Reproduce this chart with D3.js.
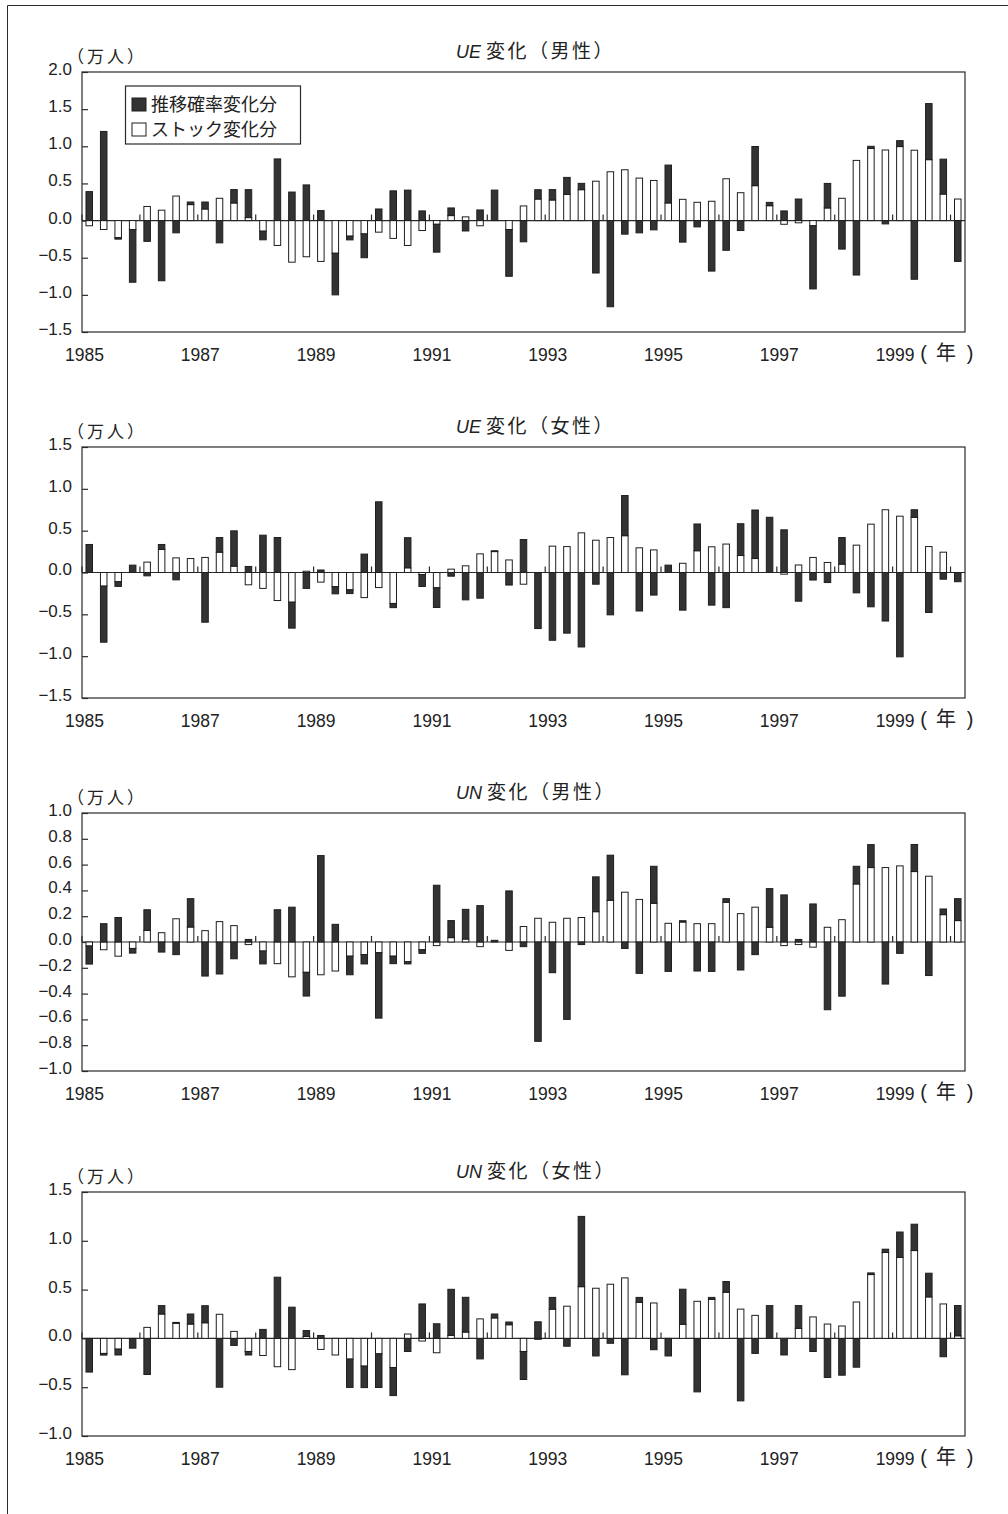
<!DOCTYPE html>
<html>
<head>
<meta charset="utf-8">
<script src="https://cdnjs.cloudflare.com/ajax/libs/d3/7.8.5/d3.min.js"></script>
<style>
  body { margin: 0; background: #fff; }
  svg { display: block; }
  text { font-family: "Liberation Sans", Arial, "Noto Sans CJK JP", sans-serif; fill: #222; }
  .cjk { font-family: "Noto Sans CJK JP", sans-serif; }
</style>
</head>
<body>
<svg id="chart" width="1008" height="1514"></svg>
<script>
// ---- categories: quarters 1985Q1 .. 2000Q1 ----
const years = [1985, 1986, 1987, 1988, 1989, 1990, 1991, 1992, 1993, 1994, 1995, 1996, 1997, 1998, 1999, 2000];
const quarters = years.flatMap(y => ["Q1", "Q2", "Q3", "Q4"].map(q => y + q)).slice(0, 61);
const xTickYears = [1985, 1987, 1989, 1991, 1993, 1995, 1997, 1999];

// ---- UE (male) ----
const ueMaleProb = [0.39, 1.20, -0.02, -0.71, -0.28, -0.81, -0.165, 0.035, 0.094, -0.30, 0.18, 0.376, -0.116, 0.83, 0.384, 0.48,
  0.134, -0.56, -0.05, -0.32, 0.156, 0.40, 0.41, 0.13, -0.375, 0.103, -0.14, 0.143, 0.41, -0.63, -0.286, 0.125,
  0.14, 0.228, 0.085, -0.706, -1.16, -0.183, -0.165, -0.125, 0.51, -0.29, -0.085, -0.68, -0.40, -0.134, 0.527, 0.045,
  0.13, 0.29, -0.85, 0.33, -0.384, -0.733, 0.03, -0.045, 0.08, -0.79, 0.755, 0.47, -0.55];
const ueMaleStock = [-0.07, -0.12, -0.23, -0.12, 0.19, 0.14, 0.33, 0.215, 0.156, 0.30, 0.237, 0.04, -0.143, -0.335, -0.56, -0.487,
  -0.55, -0.44, -0.21, -0.18, -0.156, -0.24, -0.335, -0.134, -0.05, 0.067, 0.05, -0.07, 0.0, -0.12, 0.197, 0.29,
  0.277, 0.353, 0.416, 0.53, 0.657, 0.684, 0.572, 0.54, 0.237, 0.286, 0.246, 0.26, 0.563, 0.375, 0.47, 0.20,
  -0.05, -0.03, -0.07, 0.17, 0.30, 0.81, 0.97, 0.95, 0.996, 0.947, 0.82, 0.357, 0.29];

// ---- UE (female) ----
const ueFemaleProb = [0.335, -0.67, -0.056, 0.088, -0.04, 0.06, -0.088, 0.0, -0.594, 0.175, 0.422, 0.072, 0.446, 0.418, -0.31, -0.19,
  0.03, -0.085, -0.045, 0.22, 0.845, -0.05, 0.36, -0.143, -0.235, -0.044, -0.327, -0.307, 0.01, -0.15, 0.394, -0.67,
  -0.81, -0.725, -0.89, -0.14, -0.506, 0.48, -0.46, -0.27, 0.088, -0.45, 0.32, -0.39, -0.42, 0.38, 0.58, 0.66,
  0.51, -0.343, -0.09, -0.12, 0.318, -0.243, -0.41, -0.58, -1.008, 0.09, -0.478, -0.08, -0.11];
const ueFemaleStock = [0.0, -0.163, -0.11, 0.0, 0.124, 0.275, 0.175, 0.167, 0.18, 0.243, 0.076, -0.147, -0.19, -0.335, -0.355, 0.015,
  -0.115, -0.17, -0.207, -0.30, -0.18, -0.37, 0.056, -0.024, -0.183, 0.04, 0.08, 0.223, 0.25, 0.15, -0.14, 0.0,
  0.315, 0.31, 0.474, 0.386, 0.418, 0.44, 0.295, 0.27, 0.0, 0.11, 0.26, 0.307, 0.34, 0.203, 0.167, 0.0,
  -0.02, 0.09, 0.18, 0.12, 0.10, 0.327, 0.578, 0.75, 0.673, 0.66, 0.31, 0.243, 0.0];

// ---- UN (male) ----
const unMaleProb = [-0.14, 0.142, 0.19, -0.036, 0.16, -0.078, -0.098, 0.22, -0.264, -0.248, -0.13, 0.02, -0.10, 0.25, 0.27, -0.184,
  0.67, 0.137, -0.144, -0.072, -0.507, -0.058, -0.017, -0.028, 0.44, 0.132, 0.23, 0.282, 0.013, 0.396, -0.036, -0.77,
  -0.238, -0.60, -0.02, 0.27, 0.35, -0.05, -0.243, 0.287, -0.228, 0.01, -0.225, -0.228, 0.028, -0.217, -0.098, 0.30,
  0.365, 0.02, 0.295, -0.525, -0.42, 0.137, 0.178, -0.326, -0.088, 0.21, -0.26, 0.044, 0.17];
const unMaleStock = [-0.031, -0.06, -0.11, -0.05, 0.09, 0.072, 0.18, 0.116, 0.088, 0.158, 0.127, -0.02, -0.07, -0.168, -0.27, -0.235,
  -0.254, -0.225, -0.11, -0.098, -0.083, -0.11, -0.153, -0.06, -0.028, 0.034, 0.023, -0.036, 0.0, -0.065, 0.12, 0.184,
  0.153, 0.184, 0.19, 0.235, 0.323, 0.386, 0.33, 0.30, 0.145, 0.155, 0.142, 0.142, 0.308, 0.22, 0.27, 0.114,
  -0.028, -0.02, -0.04, 0.114, 0.173, 0.45, 0.577, 0.577, 0.59, 0.546, 0.51, 0.212, 0.166];

// ---- UN (female) ----
const unFemaleProb = [-0.345, -0.017, -0.06, -0.10, -0.37, 0.086, 0.01, 0.103, 0.175, -0.50, -0.072, -0.036, 0.092, 0.627, 0.32, 0.06,
  0.03, 0.0, -0.29, -0.22, -0.345, -0.288, -0.134, 0.353, 0.15, 0.473, 0.356, -0.21, 0.04, 0.028, -0.287, 0.17,
  0.12, -0.08, 0.72, -0.18, -0.05, -0.373, 0.05, -0.116, -0.18, 0.36, -0.548, 0.02, 0.11, -0.64, -0.154, 0.336,
  -0.155, 0.233, -0.134, -0.40, -0.377, -0.295, 0.017, 0.034, 0.26, 0.27, 0.243, -0.188, 0.31];
const unFemaleStock = [0.0, -0.154, -0.11, 0.0, 0.113, 0.25, 0.154, 0.147, 0.16, 0.247, 0.072, -0.134, -0.175, -0.29, -0.32, 0.02,
  -0.113, -0.17, -0.212, -0.284, -0.158, -0.298, 0.045, -0.027, -0.147, 0.03, 0.065, 0.20, 0.21, 0.14, -0.134, -0.01,
  0.30, 0.33, 0.53, 0.514, 0.555, 0.62, 0.37, 0.363, 0.0, 0.144, 0.38, 0.40, 0.473, 0.30, 0.236, 0.0,
  -0.015, 0.103, 0.22, 0.147, 0.127, 0.373, 0.654, 0.88, 0.83, 0.90, 0.425, 0.353, 0.027];

// ---- y tick labels per panel ----
const ueMaleTicks = [2.0, 1.5, 1.0, 0.5, 0.0, -0.5, -1.0, -1.5];
const ueFemaleTicks = [1.5, 1.0, 0.5, 0.0, -0.5, -1.0, -1.5];
const unMaleTicks = [1.0, 0.8, 0.6, 0.4, 0.2, 0.0, -0.2, -0.4, -0.6, -0.8, -1.0];
const unFemaleTicks = [1.5, 1.0, 0.5, 0.0, -0.5, -1.0];

const legendLabels = ["推移確率変化分", "ストック変化分"];

const panels = [
  { flow: "UE", sex: "男性", prob: ueMaleProb, stock: ueMaleStock, ticks: ueMaleTicks, top: 72, bottom: 332, legend: true },
  { flow: "UE", sex: "女性", prob: ueFemaleProb, stock: ueFemaleStock, ticks: ueFemaleTicks, top: 447, bottom: 698 },
  { flow: "UN", sex: "男性", prob: unMaleProb, stock: unMaleStock, ticks: unMaleTicks, top: 813, bottom: 1071 },
  { flow: "UN", sex: "女性", prob: unFemaleProb, stock: unFemaleStock, ticks: unFemaleTicks, top: 1192, bottom: 1436 }
];

const svg = d3.select("#chart");
const left = 82, right = 965;
const ink = "#2a2a2a";

// page frame (left and top edges)
svg.append("path")
  .attr("d", "M7.5,1514V5.5H1008")
  .attr("fill", "none").attr("stroke", ink).attr("stroke-width", 1);

const x = d3.scaleBand().domain(quarters).range([left, right]).paddingInner(0.55).paddingOuter(0.275);
const gapHalf = (x.step() - x.bandwidth()) / 2;
const boundary = q => x(q) - gapHalf;

const stack = d3.stack().keys(["stock", "prob"]).offset(d3.stackOffsetDiverging);

panels.forEach(p => {
  const g = svg.append("g");
  const y = d3.scaleLinear()
    .domain([d3.min(p.ticks), d3.max(p.ticks)])
    .range([p.bottom, p.top]);

  // plot frame
  g.append("rect")
    .attr("x", left).attr("y", p.top)
    .attr("width", right - left).attr("height", p.bottom - p.top)
    .attr("fill", "none").attr("stroke", ink).attr("stroke-width", 1.2);

  // y axis with inward ticks
  const yAxis = d3.axisLeft(y)
    .tickValues(p.ticks)
    .tickFormat(d3.format(".1f"))
    .tickSizeInner(-6).tickSizeOuter(0).tickPadding(10);
  const ga = g.append("g").attr("transform", `translate(${left},0)`).call(yAxis);
  ga.select(".domain").remove();
  ga.selectAll(".tick line").attr("stroke", ink).attr("stroke-width", 1.2);
  ga.selectAll(".tick text").attr("font-size", 17).attr("y", -3)
    .attr("font-family", "'Liberation Sans', Arial, sans-serif").attr("fill", "#222");

  // zero line
  g.append("line")
    .attr("x1", left).attr("x2", right)
    .attr("y1", y(0)).attr("y2", y(0))
    .attr("stroke", ink).attr("stroke-width", 1.2);

  // stacked bars: stock change nearest zero, transition-probability change beyond
  const rows = quarters.map((q, i) => ({ q, stock: p.stock[i], prob: p.prob[i] }));
  const series = stack(rows);
  const fills = { stock: "#ffffff", prob: "#333333" };
  series.forEach(s => {
    g.append("g").selectAll("rect")
      .data(s.filter(d => d[1] !== d[0]))
      .join("rect")
      .attr("x", d => x(d.data.q))
      .attr("width", x.bandwidth())
      .attr("y", d => y(Math.max(d[0], d[1])))
      .attr("height", d => Math.abs(y(d[0]) - y(d[1])))
      .attr("fill", fills[s.key])
      .attr("stroke", "#1e1e1e").attr("stroke-width", 1);
  });

  // year boundary ticks on the zero line
  const yearStarts = quarters.filter(q => q.endsWith("Q1"));
  g.append("g").selectAll("line")
    .data(yearStarts)
    .join("line")
    .attr("x1", d => boundary(d)).attr("x2", d => boundary(d))
    .attr("y1", y(0)).attr("y2", y(0) - 6)
    .attr("stroke", ink).attr("stroke-width", 1.2);

  // x labels
  g.append("g").selectAll("text")
    .data(xTickYears)
    .join("text")
    .attr("x", d => boundary(d + "Q1") + 2.5)
    .attr("y", p.bottom + 29)
    .attr("text-anchor", "middle")
    .attr("font-size", 17.5)
    .text(d => d);

  // year unit: "（年）" laid out glyph by glyph
  const yr = g.append("g").attr("font-size", 20);
  [["(", 923.5], ["年", 946], [")", 970]].forEach(([ch, cx]) => {
    yr.append("text")
      .attr("class", ch === "年" ? "cjk" : null)
      .attr("x", cx).attr("y", p.bottom + 28)
      .attr("text-anchor", "middle")
      .text(ch);
  });

  // unit label
  g.append("text").attr("class", "cjk")
    .attr("x", 67).attr("y", p.top - 9)
    .attr("font-size", 17).attr("letter-spacing", 3)
    .text("（万人）");

  // title
  const t = g.append("text")
    .attr("x", 456).attr("y", p.top - 14);
  t.append("tspan").attr("font-style", "italic").attr("font-size", 18)
    .attr("font-family", "'Liberation Sans', Arial, sans-serif").text(p.flow);
  t.append("tspan").attr("class", "cjk").attr("dx", 5).attr("font-size", 19)
    .attr("letter-spacing", 2.5).text(`変化（${p.sex}）`);

  // legend
  if (p.legend) {
    const lg = g.append("g");
    lg.append("rect").attr("x", 125.5).attr("y", 86).attr("width", 175).attr("height", 58)
      .attr("fill", "#fff").attr("stroke", ink).attr("stroke-width", 1.2);
    const keys = ["prob", "stock"];
    keys.forEach((k, i) => {
      lg.append("rect").attr("x", 132).attr("y", 98 + i * 25).attr("width", 14).attr("height", 13)
        .attr("fill", fills[k]).attr("stroke", "#1e1e1e").attr("stroke-width", 1);
      lg.append("text").attr("class", "cjk").attr("x", 151).attr("y", 111 + i * 25)
        .attr("font-size", 18).text(legendLabels[i]);
    });
  }
});
</script>
</body>
</html>
